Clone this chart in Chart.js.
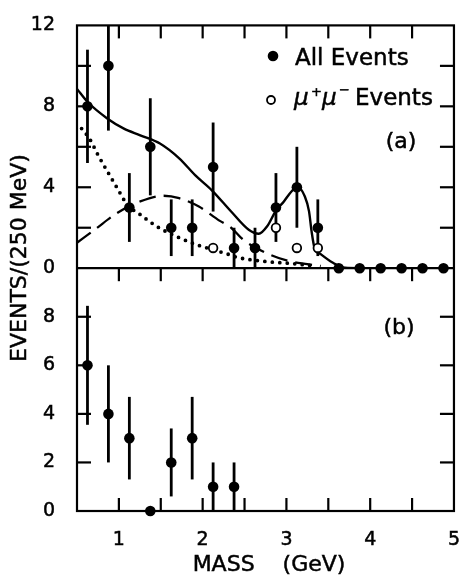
<!DOCTYPE html>
<html>
<head>
<meta charset="utf-8">
<script src="https://cdn.jsdelivr.net/npm/chart.js@4.4.1/dist/chart.umd.min.js"></script>
<style>
  html, body { margin: 0; padding: 0; background: #fff; }
  #wrap { width: 470px; height: 576px; }
</style>
</head>
<body>
<div id="wrap"><canvas id="massChart" width="470" height="576"></canvas></div>
<script>
// Bin centres (GeV), 250 MeV wide
const binCenters = [0.625, 0.875, 1.125, 1.375, 1.625, 1.875, 2.125, 2.375, 2.625,
                    2.875, 3.125, 3.375, 3.625, 3.875, 4.125, 4.375, 4.625, 4.875];

// Panel (a): all events and mu+mu- events
const allEvents = [8, 10, 3, 6, 2, 2, 5, 1, 1, 3, 4, 2, 0, 0, 0, 0, 0, 0];
const allErrors = [2.8, 3.2, 1.7, 2.4, 1.4, 1.4, 2.2, 1, 1, 1.7, 2, 1.4, 0, 0, 0, 0, 0, 0];
const muMass = [2.125, 2.875, 3.125, 3.375];
const muEvents = [1, 2, 1, 1];

// Panel (b)
const bMass = [0.625, 0.875, 1.125, 1.375, 1.625, 1.875, 2.125, 2.375];
const bEvents = [6, 4, 3, 0, 2, 3, 1, 1];
const bErrors = [2.45, 2, 1.7, 0, 1.4, 1.7, 1, 1];

// Fit curves
const solidMass  = [0.5, 0.63, 0.865, 1.06, 1.255, 1.49, 1.72, 1.91, 2.11, 2.34, 2.55, 2.67,
                    2.77, 2.87, 2.97, 3.06, 3.13, 3.22, 3.27, 3.3, 3.335, 3.41, 3.55, 3.7, 3.9];
const solidFit   = [8.86, 8.2, 7.39, 6.9, 6.57, 6.16, 5.43, 4.6, 3.85, 2.8, 1.9, 1.7,
                    2.07, 2.81, 3.3, 3.79, 4.03, 3.54, 2.81, 1.83, 1.01, 0.69, 0.28, 0.02, 0];
const dashMass   = [0.5, 0.71, 0.98, 1.255, 1.53, 1.72, 1.955, 2.2, 2.34, 2.48, 2.75, 3.02, 3.25, 3.41];
const dashFit    = [1.26, 1.9, 2.73, 3.3, 3.58, 3.46, 3.05, 2.35, 2.0, 1.42, 0.77, 0.36, 0.2, 0.11];
const dotMass    = [0.555, 0.65, 0.75, 0.865, 0.98, 1.1, 1.255, 1.45, 1.68, 1.915, 2.11, 2.305,
                    2.4, 2.75, 3.06, 3.33];
const dotFit     = [6.9, 6.4, 5.6, 4.77, 3.96, 3.14, 2.65, 2.07, 1.58, 1.18, 0.93, 0.69,
                    0.55, 0.33, 0.23, 0.11];

// Axes
const xLabels = [1, 2, 3, 4, 5];
const xTickMarks = [1, 1.5, 2, 2.5, 3, 3.5, 4, 4.5];
const aLabels = [0, 4, 8, 12];
const aTickMarks = [2, 4, 6, 8, 10];
const bLabels = [0, 2, 4, 6, 8];
const bTickMarks = [2, 4, 6, 8];

const FONT = 'DejaVu Sans';
const toPoints = (xs, ys) => xs.map((x, i) => ({x: x, y: ys[i]}));

function drawErrors(ctx, xs, ys, errs, sx, sy) {
    ctx.save();
    ctx.strokeStyle = '#000';
    ctx.lineWidth = 2.8;
    xs.forEach((x, i) => {
        if (!errs[i]) return;
        const px = sx.getPixelForValue(x);
        const lo = Math.max(ys[i] - errs[i], sy.min);
        const hi = Math.min(ys[i] + errs[i], sy.max);
        ctx.beginPath();
        ctx.moveTo(px, sy.getPixelForValue(lo));
        ctx.lineTo(px, sy.getPixelForValue(hi));
        ctx.stroke();
    });
    ctx.restore();
}

function seg(ctx, x1, y1, x2, y2) {
    ctx.beginPath();
    ctx.moveTo(x1, y1);
    ctx.lineTo(x2, y2);
    ctx.stroke();
}

// filled + lightly stroked text, to get the heavier look of the original lettering
function heavyText(ctx, txt, x, y) {
    ctx.fillText(txt, x, y);
    ctx.strokeText(txt, x, y);
}

const frameTicks = {
    id: 'frameTicks',
    beforeDatasetsDraw(chart) {
        const {ctx, scales} = chart;
        const x = scales.x, ya = scales.ya, yb = scales.yb;
        drawErrors(ctx, binCenters, allEvents, allErrors, x, ya);
        drawErrors(ctx, bMass, bEvents, bErrors, x, yb);

        // frame + inward ticks
        const TL = 13;
        const left = x.left, right = x.right;
        const top = Math.min(ya.top, yb.top);
        const bottom = Math.max(ya.bottom, yb.bottom);
        const mid = ya.bottom;
        ctx.save();
        ctx.strokeStyle = '#000';
        ctx.lineWidth = 2.2;
        ctx.strokeRect(left, top, right - left, bottom - top);
        seg(ctx, left, mid, right, mid);
        xTickMarks.forEach(v => {
            const px = x.getPixelForValue(v);
            seg(ctx, px, top, px, top + TL);
            seg(ctx, px, mid, px, mid + TL);
            seg(ctx, px, bottom, px, bottom - TL);
        });
        aTickMarks.forEach(v => {
            const py = ya.getPixelForValue(v);
            seg(ctx, left, py, left + TL + 1, py);
            seg(ctx, right, py, right - TL - 1, py);
        });
        bTickMarks.forEach(v => {
            const py = yb.getPixelForValue(v);
            seg(ctx, left, py, left + TL + 1, py);
            seg(ctx, right, py, right - TL - 1, py);
        });
        ctx.restore();
    },
    afterDraw(chart) {
        const ctx = chart.ctx;
        ctx.save();
        ctx.fillStyle = '#000';
        ctx.strokeStyle = '#000';

        // legend
        ctx.beginPath();
        ctx.arc(273, 56, 5.3, 0, Math.PI * 2);
        ctx.fill();
        ctx.lineWidth = 1.8;
        ctx.beginPath();
        ctx.arc(271, 100, 4, 0, Math.PI * 2);
        ctx.stroke();

        ctx.lineWidth = 0.5;
        ctx.textAlign = 'left';
        ctx.textBaseline = 'alphabetic';
        ctx.font = '23px "' + FONT + '"';
        heavyText(ctx, 'All Events', 295, 65);
        ctx.font = 'italic 23px "' + FONT + '"';
        heavyText(ctx, '\u03bc', 294, 105);
        heavyText(ctx, '\u03bc', 322, 105);
        ctx.font = '13px "' + FONT + '"';
        heavyText(ctx, '+', 311, 96);
        heavyText(ctx, '\u2212', 339, 94);
        ctx.font = '23px "' + FONT + '"';
        heavyText(ctx, 'Events', 355, 105);

        // panel labels
        ctx.font = '22px "' + FONT + '"';
        ctx.textAlign = 'center';
        ctx.textBaseline = 'middle';
        heavyText(ctx, '(a)', 401, 142);
        heavyText(ctx, '(b)', 399, 328);

        // axis titles
        heavyText(ctx, 'MASS    (GeV)', 269, 565);
        ctx.translate(20, 258);
        ctx.rotate(-Math.PI / 2);
        heavyText(ctx, 'EVENTS/(250 MeV)', 0, 0);
        ctx.restore();
    }
};

const fixedTicks = values => scale => {
    scale.ticks = values.map(v => ({value: v}));
};

const tickStyle = {
    color: '#000',
    textStrokeColor: '#000',
    textStrokeWidth: 0.5,
    font: { family: FONT, size: 19 }
};

new Chart(document.getElementById('massChart').getContext('2d'), {
    type: 'scatter',
    data: {
        datasets: [
            {
                label: 'All Events',
                data: toPoints(binCenters, allEvents),
                yAxisID: 'ya',
                pointRadius: 5.3,
                pointBackgroundColor: '#000',
                pointBorderColor: '#000',
                pointBorderWidth: 0,
                clip: false
            },
            {
                label: 'mu+mu- Events',
                data: toPoints(muMass, muEvents),
                yAxisID: 'ya',
                pointRadius: 4.3,
                pointBackgroundColor: '#fff',
                pointBorderColor: '#000',
                pointBorderWidth: 1.8,
                clip: false
            },
            {
                label: 'Panel b',
                data: toPoints(bMass, bEvents),
                yAxisID: 'yb',
                pointRadius: 5.3,
                pointBackgroundColor: '#000',
                pointBorderColor: '#000',
                pointBorderWidth: 0,
                clip: false
            },
            {
                label: 'Total fit',
                data: toPoints(solidMass, solidFit),
                yAxisID: 'ya',
                showLine: true,
                pointRadius: 0,
                borderColor: '#000',
                borderWidth: 2.4,
                cubicInterpolationMode: 'monotone'
            },
            {
                label: 'Dashed component',
                data: toPoints(dashMass, dashFit),
                yAxisID: 'ya',
                showLine: true,
                pointRadius: 0,
                borderColor: '#000',
                borderWidth: 2.3,
                borderDash: [17, 8],
                cubicInterpolationMode: 'monotone'
            },
            {
                label: 'Dotted component',
                data: toPoints(dotMass, dotFit),
                yAxisID: 'ya',
                showLine: true,
                pointRadius: 0,
                borderColor: '#000',
                borderWidth: 3.8,
                borderDash: [0, 7.5],
                borderCapStyle: 'round',
                cubicInterpolationMode: 'monotone'
            }
        ]
    },
    options: {
        responsive: false,
        animation: false,
        devicePixelRatio: 1,
        layout: { padding: { left: 0, right: 7, top: 19, bottom: 0 } },
        plugins: {
            legend: { display: false },
            tooltip: { enabled: false }
        },
        scales: {
            x: {
                type: 'linear',
                min: 0.5,
                max: 5,
                afterBuildTicks: fixedTicks(xLabels),
                afterFit: scale => { scale.height = 65; },
                grid: { display: false },
                border: { display: false },
                ticks: Object.assign({ padding: 10 }, tickStyle)
            },
            yb: {
                type: 'linear',
                position: 'left',
                stack: 'panels',
                stackWeight: 1,
                min: 0,
                max: 10,
                afterBuildTicks: fixedTicks(bLabels),
                afterFit: scale => { scale.width = 77; },
                grid: { display: false },
                border: { display: false },
                ticks: Object.assign({ padding: 14 }, tickStyle)
            },
            ya: {
                type: 'linear',
                position: 'left',
                stack: 'panels',
                stackWeight: 1,
                min: 0,
                max: 12,
                afterBuildTicks: fixedTicks(aLabels),
                afterFit: scale => { scale.width = 77; },
                grid: { display: false },
                border: { display: false },
                ticks: Object.assign({ padding: 14 }, tickStyle)
            }
        }
    },
    plugins: [frameTicks]
});
</script>
</body>
</html>
